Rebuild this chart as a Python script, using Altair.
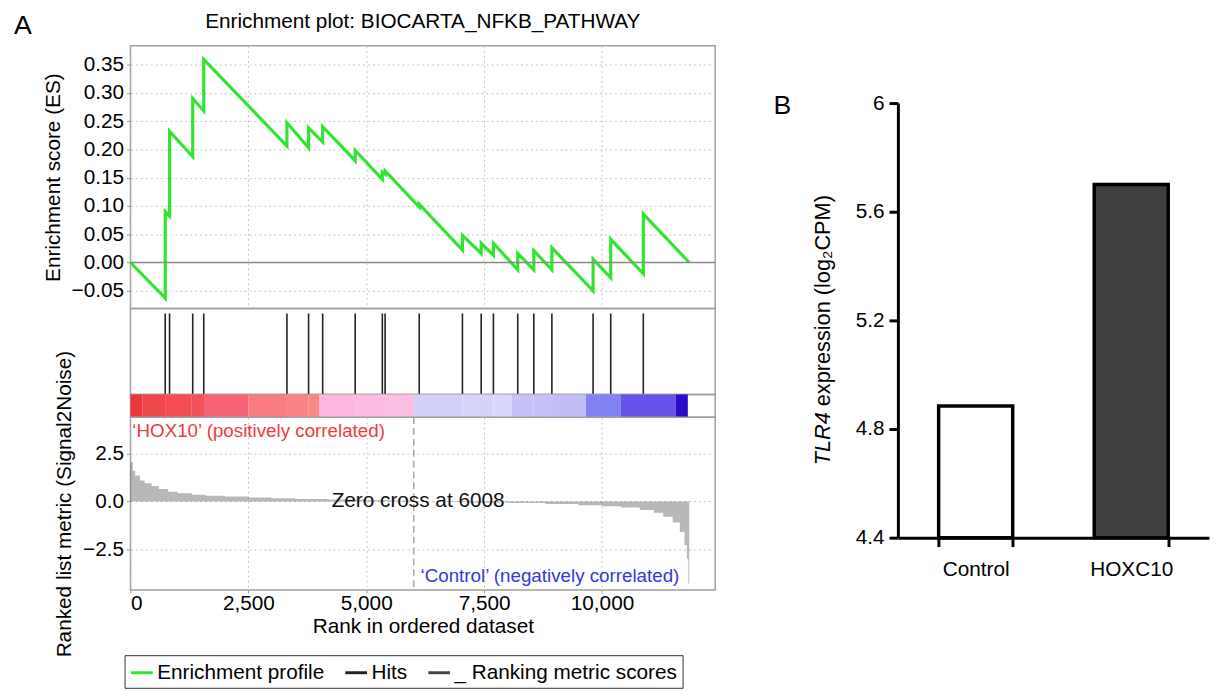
import altair as alt
import pandas as pd

FONT = "Liberation Sans"

# ---------------- Panel A data ----------------
es_rank = [0, 737, 737, 829, 829, 1320, 1320, 1554, 1554, 3318, 3318, 3777, 3777, 4076, 4076,
           4766, 4766, 5341, 5341, 5400, 5400, 6124, 6124, 7040, 7040, 7438, 7438, 7697, 7697,
           8213, 8213, 8554, 8554, 8937, 8937, 9811, 9811, 10185, 10185, 10876, 10876, 11850]
es_value = [0.0, -0.063, 0.090, 0.082, 0.232, 0.187, 0.290, 0.268, 0.359, 0.206, 0.247, 0.203,
            0.238, 0.213, 0.240, 0.180, 0.198, 0.147, 0.160, 0.156, 0.162, 0.098, 0.103, 0.022,
            0.048, 0.016, 0.034, 0.013, 0.034, -0.013, 0.016, -0.013, 0.021, -0.013, 0.026,
            -0.050, 0.006, -0.027, 0.041, -0.020, 0.086, 0.0]

hit_ranks = [737, 829, 1320, 1554, 3318, 3777, 4076, 4766, 5341, 5400, 6124, 7040, 7438, 7697,
             8213, 8554, 8937, 9811, 10185, 10876]

heat_start = [0, 250, 750, 1300, 1560, 2500, 3300, 3770, 4000, 4780, 5400, 6010, 7040, 7410,
              7700, 8080, 8550, 8960, 9660, 10400, 11560]
heat_end = [250, 750, 1300, 1560, 2500, 3300, 3770, 4000, 4780, 5400, 6010, 7040, 7410, 7700,
            8080, 8550, 8960, 9660, 10400, 11560, 11820]
heat_color = ["#e8373d", "#f0474d", "#f24d53", "#f1535a", "#f56476", "#f87c80", "#f98284",
              "#f98784", "#fbb7e0", "#fbbbe2", "#fcbfe4", "#d3d1fa", "#d6d4fa", "#d5d3fa",
              "#d9d8fb", "#c6c2f8", "#c4c0f8", "#c2bdf6", "#8181f4", "#6453e6", "#2c0cc6"]

metric_rank = [0, 50, 100, 200, 300, 450, 600, 800, 1000, 1300, 1600, 2000, 2500, 3000, 3500,
               4200, 5000, 5600, 6008, 6500, 7200, 8000, 8800, 9500, 10000, 10400, 10800,
               11100, 11300, 11500, 11650, 11750, 11800, 11830, 11850]
metric_value = [2.05, 1.6, 1.35, 1.1, 0.95, 0.8, 0.65, 0.5, 0.42, 0.35, 0.30, 0.25, 0.20, 0.16,
                0.13, 0.10, 0.06, 0.03, 0.0, -0.03, -0.06, -0.09, -0.13, -0.2, -0.25, -0.32,
                -0.45, -0.6, -0.8, -1.1, -1.6, -2.3, -3.0, -4.3, -4.3]

rank_ticks = [0, 2500, 5000, 7500, 10000]
es_ticks = [-0.05, 0.0, 0.05, 0.10, 0.15, 0.20, 0.25, 0.30, 0.35]
metric_ticks = [-2.5, 0.0, 2.5]
zero_cross = 6008
legend_labels = ["Enrichment profile", "Hits", "Ranking metric scores"]
ann_text = ["\u2018HOX10\u2019 (positively correlated)", "Zero cross at 6008",
            "\u2018Control\u2019 (negatively correlated)"]
ann_rank = [40, 6100, 11640]
ann_metric = [3.7, 0.0, -3.9]

# ---------------- Panel B data ----------------
groups = ["Control", "HOXC10"]
tlr4 = [4.885, 5.70]
bar_fill = ["#ffffff", "#404040"]
b_ticks = [4.4, 4.8, 5.2, 5.6, 6.0]

# ---------------- layout constants ----------------
W = 592
H_ES, H_HITS, H_HEAT, H_RANK = 266, 87, 23, 175
GRID = dict(grid=True, gridDash=[2, 3], gridColor="#c4c4c4", gridWidth=1)

x_scale = alt.Scale(domain=[0, 12400], nice=False, zero=False)
color_scale = alt.Scale(domain=legend_labels, range=["#2fe52f", "#222222", "#444444"])
legend = alt.Legend(title=None, orient="none", legendX=-6, legendY=617, direction="horizontal",
                    symbolType="stroke", symbolSize=480, symbolStrokeWidth=3, symbolOpacity=1,
                    labelFontSize=21, labelFont=FONT, labelColor="black", labelLimit=500,
                    strokeColor="#333333", fillColor="white", padding=5, columnPadding=14,
                    labelOffset=3,
                    labelExpr="datum.label == 'Ranking metric scores' ? '_ Ranking metric scores' : datum.label")

es_df = pd.DataFrame({"rank": es_rank, "es": es_value, "i": list(range(len(es_rank))),
                      "s": legend_labels[0]})
hits_df = pd.DataFrame({"rank": hit_ranks, "s": legend_labels[1]})
heat_df = pd.DataFrame({"start": heat_start, "end": heat_end, "c": heat_color})
metric_df = pd.DataFrame({"rank": metric_rank, "metric": metric_value, "s": legend_labels[2]})
ann_df = pd.DataFrame({"rank": ann_rank, "metric": ann_metric, "t": ann_text})

# Enrichment score panel
es_x = alt.X("rank:Q", scale=x_scale,
             axis=alt.Axis(values=rank_ticks, labels=False, ticks=False, domain=False, title=None, **GRID))
es_y = alt.Y("es:Q", scale=alt.Scale(domain=[-0.0814, 0.3832], nice=False, zero=False),
             axis=alt.Axis(values=es_ticks, format=".2f", title="Enrichment score (ES)", domain=False,
                           tickSize=4, tickColor="#999999", labelFontSize=21, titleFontSize=21,
                           labelPadding=3, titlePadding=8, labelOverlap=False, labelBound=False,
                           labelSeparation=0, **GRID))
es_line = alt.Chart(es_df).mark_line(strokeWidth=3.2).encode(
    x=es_x, y=es_y, order="i:Q",
    color=alt.Color("s:N", scale=color_scale, legend=legend))
zero_rule = alt.Chart(pd.DataFrame({"es": [0.0]})).mark_rule(color="#8a8a8a", strokeWidth=1.5).encode(y=es_y)
a_label = alt.Chart(pd.DataFrame({"t": ["A"]})).mark_text(fontSize=27, align="center", baseline="middle").encode(
    x=alt.value(-109), y=alt.value(-20), text="t:N")
a_title = alt.Chart(pd.DataFrame({"t": ["Enrichment plot: BIOCARTA_NFKB_PATHWAY"]})).mark_text(
    fontSize=21, align="center", baseline="middle").encode(
    x=alt.value(W / 2), y=alt.value(-24), text="t:N")
es_chart = alt.layer(es_line, zero_rule, a_label, a_title).properties(width=W, height=H_ES)

# Hits panel
hits_chart = alt.Chart(hits_df).mark_rule(strokeWidth=1.6).encode(
    x=alt.X("rank:Q", scale=x_scale, axis=None),
    y=alt.value(5), y2=alt.value(H_HITS),
    color=alt.Color("s:N", scale=color_scale, legend=legend)).properties(width=W, height=H_HITS)

# Heat bar panel
heat_chart = alt.Chart(heat_df).mark_rect().encode(
    x=alt.X("start:Q", scale=x_scale, axis=None), x2="end:Q",
    y=alt.value(0), y2=alt.value(H_HEAT),
    fill=alt.Fill("c:N", scale=None)).properties(width=W, height=H_HEAT)

# Ranked list panel
rk_x = alt.X("rank:Q", scale=x_scale,
             axis=alt.Axis(values=rank_ticks, format=",d", title="Rank in ordered dataset", domain=False,
                           tickSize=3, tickColor="#999999", labelFontSize=21, titleFontSize=21,
                           labelPadding=0, titlePadding=2, **GRID))
rk_y = alt.Y("metric:Q", scale=alt.Scale(domain=[-4.64, 4.41], nice=False, zero=False),
             axis=alt.Axis(values=metric_ticks, format=".1f", title="Ranked list metric (Signal2Noise)",
                           domain=False, tickSize=4, tickColor="#999999", labelFontSize=21,
                           titleFontSize=21, labelPadding=3, titlePadding=8, labelOverlap=False, **GRID))
area = alt.Chart(metric_df).mark_area(interpolate="step-after", opacity=0.38).encode(
    x=rk_x, y=rk_y, y2=alt.datum(0), color=alt.Color("s:N", scale=color_scale, legend=legend))
zc_rule = alt.Chart(pd.DataFrame({"rank": [zero_cross]})).mark_rule(
    color="#a8a8a8", strokeWidth=1.5, strokeDash=[7, 4]).encode(x=rk_x)
t_pos = alt.Chart(ann_df.iloc[[0]]).mark_text(align="left", baseline="middle", fontSize=19, color="#ee3b3b").encode(
    x=rk_x, y=rk_y, text="t:N")
t_zero = alt.Chart(ann_df.iloc[[1]]).mark_text(align="center", baseline="middle", fontSize=21, color="#111111").encode(
    x=rk_x, y=rk_y, text="t:N")
t_neg = alt.Chart(ann_df.iloc[[2]]).mark_text(align="right", baseline="middle", fontSize=19, color="#3535e6").encode(
    x=rk_x, y=rk_y, text="t:N")
ranked_chart = alt.layer(area, zc_rule, t_pos, t_zero, t_neg).properties(width=W, height=H_RANK)

panel_a = alt.vconcat(es_chart, hits_chart, heat_chart, ranked_chart, spacing=0,
                      bounds="flush").resolve_scale(color="shared")

# ---------------- Panel B ----------------
B_TOP, H_B, W_B = 58, 498, 315
b_df = pd.DataFrame({"group": groups, "tlr4": tlr4, "fill": bar_fill})
b_bars = alt.Chart(b_df).mark_bar(stroke="black", strokeWidth=3.5).encode(
    x=alt.X("group:N", sort=None, scale=alt.Scale(paddingInner=0.524, paddingOuter=0.262),
            axis=alt.Axis(title=None, labelAngle=0, labelFontSize=21, labelPadding=12, labelColor="black",
                          domainColor="black", domainWidth=3, tickColor="black", tickWidth=3, tickSize=9,
                          tickBand="extent", grid=False)),
    y=alt.Y("tlr4:Q", scale=alt.Scale(domain=[4.4, 6.0], range=[H_B, B_TOP], nice=False, zero=False),
            axis=alt.Axis(values=b_ticks, format=".1~f", title=None, labelFontSize=21, labelPadding=5,
                          labelColor="black", domainColor="black", domainWidth=3, tickColor="black",
                          tickWidth=3, tickSize=9, grid=False, labelOverlap=False)),
    y2=alt.datum(4.4),
    fill=alt.Fill("fill:N", scale=None))
b_title1 = alt.Chart(pd.DataFrame({"t": ["TLR4"]})).mark_text(
    angle=270, align="right", baseline="middle", fontSize=22, fontStyle="italic").encode(
    x=alt.value(-76), y=alt.value(371), text="t:N")
b_title2 = alt.Chart(pd.DataFrame({"t": ["expression (log\u2082CPM)"]})).mark_text(
    angle=270, align="left", baseline="middle", fontSize=22).encode(
    x=alt.value(-76), y=alt.value(365), text="t:N")
b_label = alt.Chart(pd.DataFrame({"t": ["B"]})).mark_text(fontSize=27, align="center", baseline="middle").encode(
    x=alt.value(-117), y=alt.value(61), text="t:N")
panel_b = alt.layer(b_bars, b_title1, b_title2, b_label).properties(
    width=W_B, height=H_B, view=alt.ViewBackground(stroke="transparent"))

chart = alt.hconcat(panel_a, panel_b, spacing=56).configure(
    font=FONT, padding={"left": 5, "top": -2, "right": 0, "bottom": 0}
).configure_view(stroke="#a0a0a0", strokeWidth=1.5).configure_axis(
    labelFont=FONT, titleFont=FONT, labelColor="black", titleColor="black", titleFontWeight="normal"
).configure_text(font=FONT)

chart.save("out.html", embed_options={"renderer": "svg", "actions": False})
